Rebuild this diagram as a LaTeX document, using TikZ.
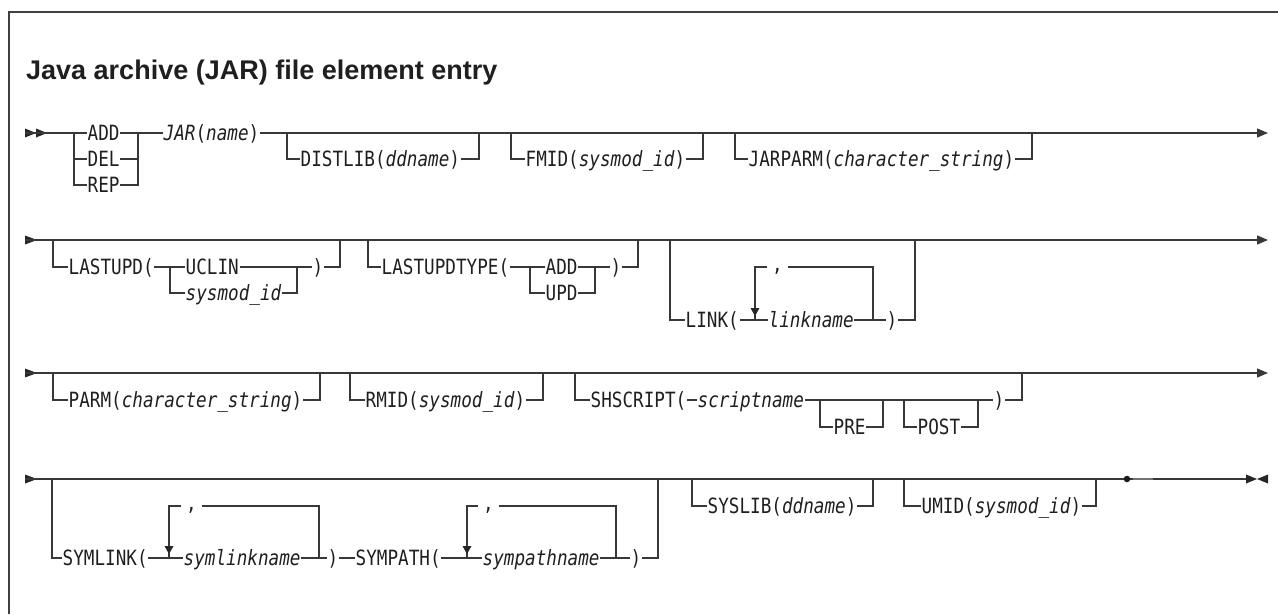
\documentclass[tikz,border=0pt]{standalone}
\usepackage{fontspec}
\usetikzlibrary{arrows.meta,positioning}
\newfontfamily\railfont{DejaVu Sans Mono}[FakeStretch=0.84]
\newfontfamily\headfont{Liberation Sans}

\tikzset{
  rail/.style={line width=1.4pt, draw=black!78},
  kw/.style={anchor=west, inner xsep=0.5pt, inner ysep=0pt, text height=18pt, text depth=3pt,
    font=\railfont\fontsize{21}{24}\selectfont, text=black!88},
  commanode/.style={kw, text height=11pt, text depth=3pt, inner xsep=5pt},
  tip/.style={fill=black!85},
  endtip/.style={-{Triangle[length=11pt,width=9pt]}},
}

\begin{document}
\begin{tikzpicture}[x=1pt, y=-1pt]
  \useasboundingbox (0,0) rectangle (1278,614);

  % 枠と見出し
  \draw[line width=1.5pt, black!75] (9,614) -- (9,12) -- (1278,12);
  \node[anchor=base west, inner sep=0, font=\headfont\bfseries\fontsize{27}{31}\selectfont, text=black!88] (title) at (26,79) {Java archive (JAR) file element entry};

  % 1行目: ADD/DEL/REP と JAR(name)
  \coordinate (r1s) at (25,133);
  \coordinate (r1z) at (1268,133);
  \fill[tip] (r1s) ++(0,-4.5) -- ++(11,4.5) -- ++(-11,4.5) -- cycle;
  \fill[tip] (r1s) ++(11,-4.5) -- ++(11,4.5) -- ++(-11,4.5) -- cycle;
  \coordinate (opL) at (74,133);
  \coordinate (opR) at (138,133);
  \node[kw] (add) at (87,133) {ADD};
  \node[kw] (del) at (87,159) {DEL};
  \node[kw] (rep) at (87,185) {REP};
  \node[kw] (jar) at (163,133) {\textit{JAR}(\textit{name})};
  \draw[rail] (r1s) -- (add.west);
  \draw[rail] (add.east) -- (jar.west);
  \draw[rail, endtip] (jar.east) -- (r1z);
  \draw[rail] (opL) |- (del.west);
  \draw[rail] (opL) |- (rep.west);
  \draw[rail] (del.east) -| (opR);
  \draw[rail] (rep.east) -| (opR);

  % 2行目から4行目の幹線
  \coordinate (r2s) at (25,240);
  \coordinate (r2z) at (1268,240);
  \coordinate (r3s) at (25,373);
  \coordinate (r3z) at (1268,373);
  \coordinate (r4s) at (25,479);
  \coordinate (r4z) at (1246,479);
  \foreach \r in {r2s,r3s,r4s}
    \fill[tip] (\r) ++(0,-4.5) -- ++(12,4.5) -- ++(-12,4.5) -- cycle;
  \draw[rail, endtip] (r2s) -- (r2z);
  \draw[rail, endtip] (r3s) -- (r3z);

  % 省略可能な単純な枝
  \foreach \nm/\xa/\xt/\xb/\ya/\yb/\lbl in {
      distlib/287/300/479/133/159/{DISTLIB(\textit{ddname})},
      fmid/511/525/703/133/159/{FMID(\textit{sysmod\_id})},
      jarparm/735/748/1032/133/159/{JARPARM(\textit{character\_string})},
      parm/53/68/320/373/400/{PARM(\textit{character\_string})},
      rmid/350/365/543/373/400/{RMID(\textit{sysmod\_id})},
      syslib/692/707/873/479/506/{SYSLIB(\textit{ddname})},
      umid/904/921/1096/479/506/{UMID(\textit{sysmod\_id})}}
  {
    \coordinate (\nm A) at (\xa,\ya);
    \coordinate (\nm B) at (\xb,\ya);
    \node[kw] (\nm) at (\xt,\yb) {\lbl};
    \draw[rail] (\nm A) |- (\nm.west);
    \draw[rail] (\nm.east) -| (\nm B);
  }

  % LASTUPD(UCLIN | sysmod_id)
  \coordinate (luA) at (53,240);
  \coordinate (luB) at (340,240);
  \coordinate (luL) at (170,267);
  \coordinate (luR) at (297,267);
  \node[kw] (lastupd) at (68,267) {LASTUPD(};
  \node[kw] (uclin) at (185,267) {UCLIN};
  \node[kw] (lusid) at (185,293) {\textit{sysmod\_id}};
  \node[kw] (lucl) at (312,267) {)};
  \draw[rail] (luA) |- (lastupd.west);
  \draw[rail] (lastupd.east) -- (uclin.west);
  \draw[rail] (uclin.east) -- (lucl.west);
  \draw[rail] (luL) |- (lusid.west);
  \draw[rail] (lusid.east) -| (luR);
  \draw[rail] (lucl.east) -| (luB);

  % LASTUPDTYPE(ADD | UPD)
  \coordinate (ltA) at (368,240);
  \coordinate (ltB) at (638,240);
  \coordinate (ltL) at (530,267);
  \coordinate (ltR) at (595,267);
  \node[kw] (lastupdtype) at (381,267) {LASTUPDTYPE(};
  \node[kw] (ltadd) at (545,267) {ADD};
  \node[kw] (ltupd) at (545,293) {UPD};
  \node[kw] (ltcl) at (610,267) {)};
  \draw[rail] (ltA) |- (lastupdtype.west);
  \draw[rail] (lastupdtype.east) -- (ltadd.west);
  \draw[rail] (ltadd.east) -- (ltcl.west);
  \draw[rail] (ltL) |- (ltupd.west);
  \draw[rail] (ltupd.east) -| (ltR);
  \draw[rail] (ltcl.east) -| (ltB);

  % LINK(linkname, ...)
  \coordinate (lkA) at (670,240);
  \coordinate (lkB) at (915,240);
  \coordinate (lkJ) at (755,320);
  \coordinate (lkK) at (873,320);
  \node[kw] (link) at (685,320) {LINK(};
  \node[kw] (linkname) at (768,320) {\textit{linkname}};
  \node[kw] (lkcl) at (886,320) {)};
  \node[commanode] (lkc) at (767,267) {,};
  \draw[rail] (lkA) |- (link.west);
  \draw[rail] (link.east) -- (linkname.west);
  \draw[rail] (linkname.east) -- (lkcl.west);
  \draw[rail] (lkcl.east) -| (lkB);
  \draw[rail] (lkK) |- (lkc.east);
  \draw[rail] (lkc.west) -| (lkJ);
  \fill[tip] (lkJ) ++(-4.5,-12) -- ++(9,0) -- ++(-4.5,8) -- cycle;

  % SHSCRIPT(scriptname [PRE] [POST])
  \coordinate (shA) at (575,373);
  \coordinate (shB) at (1022,373);
  \coordinate (prA) at (820,400);
  \coordinate (prB) at (883,400);
  \coordinate (poA) at (904,400);
  \coordinate (poB) at (978,400);
  \node[kw] (shscript) at (590,400) {SHSCRIPT(};
  \node[kw, right=10pt of shscript] (scriptname) {\textit{scriptname}};
  \node[kw] (shcl) at (993,400) {)};
  \node[kw] (pre) at (833,427) {PRE};
  \node[kw] (post) at (917,427) {POST};
  \draw[rail] (shA) |- (shscript.west);
  \draw[rail] (shscript.east) -- (scriptname.west);
  \draw[rail] (scriptname.east) -- (shcl.west);
  \draw[rail] (shcl.east) -| (shB);
  \draw[rail] (prA) |- (pre.west);
  \draw[rail] (pre.east) -| (prB);
  \draw[rail] (poA) |- (post.west);
  \draw[rail] (post.east) -| (poB);

  % SYMLINK(...) SYMPATH(...)
  \coordinate (slA) at (52,479);
  \coordinate (slB) at (658,479);
  \coordinate (slJ) at (169,558);
  \coordinate (slK) at (319,558);
  \coordinate (spJ) at (467,558);
  \coordinate (spK) at (616,558);
  \node[kw] (symlink) at (62,558) {SYMLINK(};
  \node[kw] (symlinkname) at (183,558) {\textit{symlinkname}};
  \node[kw] (slcl) at (327,558) {)};
  \node[kw] (sympath) at (355,558) {SYMPATH(};
  \node[kw] (sympathname) at (482,558) {\textit{sympathname}};
  \node[kw] (spcl) at (630,558) {)};
  \node[commanode] (slc) at (181,506) {,};
  \node[commanode] (spc) at (478,506) {,};
  \draw[rail] (slA) |- (symlink.west);
  \draw[rail] (symlink.east) -- (symlinkname.west);
  \draw[rail] (symlinkname.east) -- (slcl.west);
  \draw[rail] (slcl.east) -- (sympath.west);
  \draw[rail] (sympath.east) -- (sympathname.west);
  \draw[rail] (sympathname.east) -- (spcl.west);
  \draw[rail] (spcl.east) -| (slB);
  \draw[rail] (slK) |- (slc.east);
  \draw[rail] (slc.west) -| (slJ);
  \draw[rail] (spK) |- (spc.east);
  \draw[rail] (spc.west) -| (spJ);
  \fill[tip] (slJ) ++(-4.5,-12) -- ++(9,0) -- ++(-4.5,8) -- cycle;
  \fill[tip] (spJ) ++(-4.5,-12) -- ++(9,0) -- ++(-4.5,8) -- cycle;

  % 終端
  \node[circle, fill=black!90, inner sep=0pt, minimum size=6.5pt] (dot) at (1127,479) {};
  \draw[rail] (r4s) -- (dot);
  \draw[rail] (dot) -- (r4z);
  \draw[line width=2.4pt, black!55] (dot.east) ++(3,0) -- ++(20,0);
  \fill[tip] (r4z) ++(0,-4.5) -- ++(11,4.5) -- ++(-11,4.5) -- cycle;
  \fill[tip] (r4z) ++(22,-4.5) -- ++(-11,4.5) -- ++(11,4.5) -- cycle;
\end{tikzpicture}
\end{document}
